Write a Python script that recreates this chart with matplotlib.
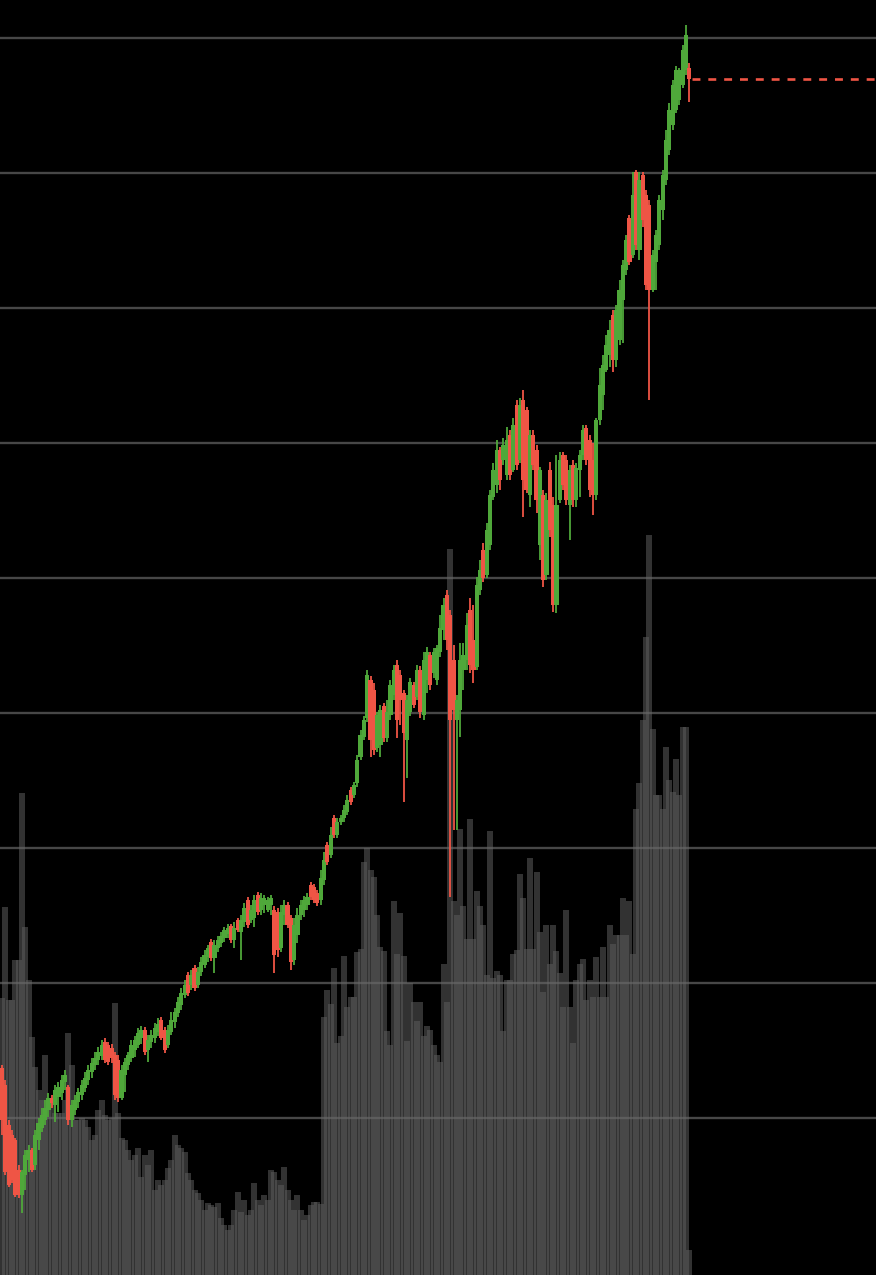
import matplotlib
matplotlib.use("Agg")
import matplotlib.pyplot as plt
import numpy as np

# ---------------- data ----------------
opens = [
    185,168,128,118,113,83,58,78,93,103,
    88,113,125,133,143,155,148,156,160,171,
    166,133,143,151,158,165,173,181,188,193,
    197,211,208,205,198,193,155,178,188,195,
    203,208,215,223,203,211,215,221,233,223,
    208,221,231,240,248,258,278,268,285,268,
    281,288,296,311,295,305,310,315,319,327,
    313,333,321,331,353,333,335,358,343,348,
    343,348,343,341,305,338,348,335,293,318,
    338,343,348,368,366,360,353,373,408,398,
    435,418,431,435,441,463,458,470,496,516,
    535,573,563,505,508,547,515,538,558,588,
    578,560,513,541,568,556,583,538,573,598,
    580,573,601,623,658,638,593,533,543,583,
    593,643,613,586,663,703,678,708,756,768,
    803,793,778,818,783,848,793,853,843,758,
    818,803,708,758,678,783,748,648,753,798,
    793,748,788,753,783,798,825,813,793,758,
    833,858,883,898,938,893,913,953,983,1035,
    998,1081,1003,1078,1058,1048,963,991,1008,1043,
    1073,1103,1128,1143,1153,1168,1183,1185,
]
highs = [
    188,173,133,123,115,88,83,103,108,105,
    123,135,145,153,160,158,168,171,178,183,
    168,153,158,165,173,181,188,195,201,206,
    213,215,211,209,201,198,188,195,201,213,
    217,225,227,226,218,223,230,235,236,226,
    228,241,245,256,265,273,281,283,288,286,
    296,303,308,314,313,317,321,326,329,329,
    331,335,338,350,356,348,358,361,360,358,
    356,358,347,345,348,353,351,338,335,345,
    353,357,360,371,369,363,383,401,411,426,
    438,435,438,448,458,466,471,498,523,537,
    583,577,570,541,548,550,553,573,588,593,
    583,563,558,575,571,588,587,601,606,601,
    605,608,638,655,663,643,608,558,610,610,
    640,655,648,676,693,710,730,763,790,813,
    806,815,826,823,835,853,855,863,846,823,
    823,808,786,763,760,791,756,798,801,801,
    798,788,793,790,803,828,828,818,810,835,
    885,898,918,933,943,948,973,993,1018,1038,
    1081,1083,1081,1081,1063,1053,1003,1023,1058,1083,
    1123,1150,1173,1187,1185,1208,1228,1190,
]
lows = [
    118,78,66,70,56,55,40,63,81,81,
    83,103,121,128,136,145,131,141,153,163,
    128,126,138,145,153,161,168,175,183,188,
    193,190,188,190,153,151,153,161,183,191,
    196,205,209,198,191,205,210,217,213,200,
    205,218,225,236,243,255,257,263,262,265,
    277,285,291,292,280,301,306,311,315,310,
    305,321,293,326,325,330,326,338,338,340,
    341,338,280,296,301,328,325,283,288,310,
    333,336,343,353,350,347,348,368,388,395,
    415,415,428,431,438,448,455,466,493,513,
    531,496,498,501,496,511,511,533,553,515,
    528,451,475,537,545,553,535,533,560,563,
    575,568,596,613,603,356,423,423,516,563,
    583,580,570,583,658,671,675,703,753,760,
    763,788,773,773,781,783,790,736,760,746,
    783,740,693,666,673,716,641,640,750,763,
    748,713,746,746,756,793,788,756,738,753,
    828,843,881,886,881,886,908,910,978,988,
    995,1003,993,1026,963,853,961,963,1003,1033,
    1068,1098,1123,1140,1148,1165,1178,1151,
]
closes = [
    133,81,68,73,58,58,81,98,103,83,
    118,130,138,145,155,150,163,166,173,178,
    133,148,153,161,168,175,183,190,195,201,
    208,193,191,195,158,155,183,191,198,208,
    213,220,223,201,213,218,225,229,215,203,
    223,233,241,251,260,268,260,278,265,281,
    291,298,305,295,308,313,317,323,325,313,
    325,323,333,345,328,343,353,341,355,355,
    353,355,298,303,341,348,328,291,328,338,
    348,353,356,356,353,350,375,393,391,418,
    418,431,435,443,453,451,468,493,518,533,
    578,513,503,538,543,515,541,568,583,533,
    553,520,553,571,548,583,541,593,601,568,
    601,605,625,648,613,533,543,553,593,598,
    628,588,583,668,683,675,723,758,783,803,
    773,808,813,778,828,788,848,773,763,818,
    788,753,783,673,753,723,648,748,793,768,
    753,783,753,785,798,823,793,763,758,833,
    868,888,908,923,893,943,963,988,1013,991,
    1058,1008,1073,1033,968,963,998,1018,1053,1078,
    1113,1143,1168,1183,1183,1203,1218,1174,
]
volumes = [
    277,368,275,275,315,315,482,348,295,238,
    208,185,175,220,165,175,162,162,162,175,
    242,210,155,155,157,155,148,135,140,165,
    175,160,155,157,272,162,137,135,125,115,
    120,127,98,120,110,125,85,95,90,95,
    107,115,140,130,127,123,102,95,85,82,
    75,65,72,70,68,72,57,50,45,50,
    65,83,63,75,60,65,92,75,70,80,
    75,105,103,95,90,108,85,75,65,80,
    65,55,60,70,73,73,71,258,285,271,
    307,232,239,319,268,278,278,323,326,413,
    427,405,398,360,328,324,244,230,374,321,
    362,319,234,292,273,254,273,239,249,245,
    230,220,213,311,273,726,374,360,446,369,
    336,456,336,384,369,350,300,444,297,304,
    300,244,295,295,321,325,401,377,326,417,
    326,403,343,283,350,311,350,324,302,268,
    365,268,232,295,311,316,275,295,278,318,
    278,328,278,350,331,340,340,377,340,374,
    321,466,492,555,638,740,546,480,480,466,
    528,495,483,516,480,548,548,25,
]
grid_levels = [135, 270, 405, 540, 675, 810, 945, 1080, 1215]

# ---------------- styling ----------------
UP = "#4fa83a"
DOWN = "#ef5545"
BG = "#000000"

o = np.array(opens, float)
h = np.array(highs, float)
l = np.array(lows, float)
c = np.array(closes, float)
v = np.array(volumes, float)
idx = np.arange(len(c))
up = c >= o
cols = np.where(up, UP, DOWN)

fig = plt.figure(figsize=(8.76, 12.75), dpi=100, facecolor=BG)
ax_v = fig.add_axes([0, 0, 1, 1])
ax_v.set_facecolor(BG)
ax = ax_v.twinx()
ax.patch.set_alpha(0)

xlim = (-0.6, 263.25)

# volume (translucent, overlapping bars)
ax_v.bar(idx, v, width=1.8, color="#5a5a5a", alpha=0.56, linewidth=0)
ax_v.set_xlim(*xlim)
ax_v.set_ylim(0, 1275)

# price
ax.set_xlim(*xlim)
ax.set_ylim(-22, 1253)
ax.set_yticks(grid_levels)
ax.set_axisbelow(True)
ax.grid(axis="y", color="#666666", alpha=0.7, linewidth=1.7)
ax.grid(axis="x", visible=False)

ax.vlines(idx, l, h, colors=cols, linewidth=1.3, zorder=3)
body_bottom = np.minimum(o, c)
body_h = np.maximum(np.abs(c - o), 2.5)
ax.bar(idx, body_h, bottom=body_bottom, width=1.25, color=cols, linewidth=0, zorder=4)

# last price dashed line
ax.hlines(c[-1], idx[-1] + 0.9, xlim[1], colors=DOWN, linewidth=1.9,
          linestyles=(0, (3, 3)), zorder=4)

for a in (ax, ax_v):
    for s in a.spines.values():
        s.set_visible(False)
    a.tick_params(left=False, right=False, bottom=False, top=False,
                  labelleft=False, labelright=False, labelbottom=False)

fig.savefig("out.png", dpi=100, facecolor=BG)
